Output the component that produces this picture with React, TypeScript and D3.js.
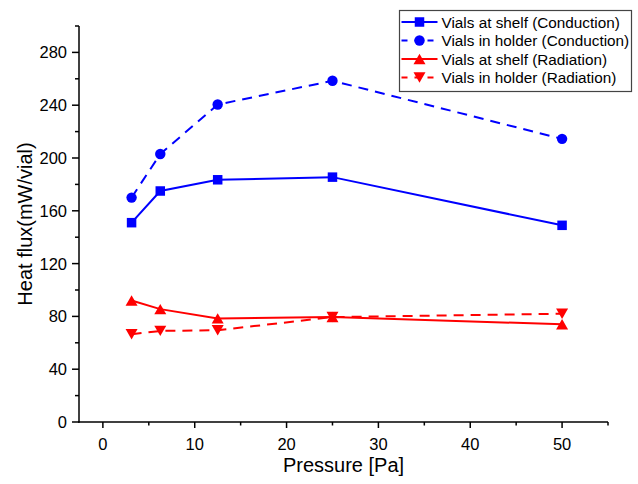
import React from "react";
import * as d3 from "d3";

// Chamber pressure [Pa]
const pressure = [3.125, 6.25, 12.5, 25, 50];

// Heat flux per vial [mW/vial]
const shelfConduction = [151, 175, 183.5, 185.5, 149];
const holderConduction = [170, 203, 240.5, 258.5, 214.5];
const shelfRadiation = [92, 85.5, 78.5, 79.5, 74];
const holderRadiation = [66.5, 69, 69.5, 79.5, 82];

const xMajorTicks = [0, 10, 20, 30, 40, 50];
const xMinorTicks = [5, 15, 25, 35, 45, 55];
const yMajorTicks = [0, 40, 80, 120, 160, 200, 240, 280];
const yMinorTicks = [20, 60, 100, 140, 180, 220, 260, 300];

type MarkerKind = "square" | "circle" | "up" | "down";

interface Series {
  name: string;
  values: number[];
  color: string;
  dashed: boolean;
  marker: MarkerKind;
}

const series: Series[] = [
  { name: "Vials at shelf (Conduction)", values: shelfConduction, color: "#0000ff", dashed: false, marker: "square" },
  { name: "Vials in holder (Conduction)", values: holderConduction, color: "#0000ff", dashed: true, marker: "circle" },
  { name: "Vials at shelf (Radiation)", values: shelfRadiation, color: "#ff0000", dashed: false, marker: "up" },
  { name: "Vials in holder (Radiation)", values: holderRadiation, color: "#ff0000", dashed: true, marker: "down" },
];

const W = 638;
const H = 484;
const left = 79;
const right = 608;
const top = 26;
const bottom = 422;

const x = d3.scaleLinear().domain([-2.6, 55]).range([left, right]);
const y = d3.scaleLinear().domain([0, 300]).range([bottom, top]);

const FONT = "Arial, 'Liberation Sans', sans-serif";

function Marker({ kind, cx, cy, color }: { kind: MarkerKind; cx: number; cy: number; color: string }) {
  if (kind === "square") {
    return <rect x={cx - 4.75} y={cy - 4.75} width={9.5} height={9.5} fill={color} />;
  }
  if (kind === "circle") {
    return <circle cx={cx} cy={cy} r={5.2} fill={color} />;
  }
  const w = 6;
  const h = 5.2;
  const pts =
    kind === "up"
      ? `${cx - w},${cy + h} ${cx + w},${cy + h} ${cx},${cy - h}`
      : `${cx - w},${cy - h} ${cx + w},${cy - h} ${cx},${cy + h}`;
  return <polygon points={pts} fill={color} />;
}

export default function App() {
  const line = d3
    .line<number>()
    .x((_, i) => x(pressure[i]))
    .y((d) => y(d));

  const legendX = 399.5;
  const legendY = 10.5;
  const legendW = 232;
  const legendH = 81;
  const rowY = [22, 40.5, 59, 77.5];

  return (
    <svg
      width={W}
      height={H}
      style={{ position: "absolute", left: 0, top: 0, background: "#ffffff" }}
      fontFamily={FONT}
    >
      <rect width={W} height={H} fill="#ffffff" />

      {/* series lines */}
      {series.map((s) => (
        <path
          key={s.name + "-line"}
          d={line(s.values) ?? ""}
          fill="none"
          stroke={s.color}
          strokeWidth={2}
          strokeDasharray={s.dashed ? "10 7" : undefined}
        />
      ))}

      {/* series markers */}
      {series.map((s) =>
        s.values.map((v, i) => (
          <Marker key={s.name + i} kind={s.marker} cx={x(pressure[i])} cy={y(v)} color={s.color} />
        ))
      )}

      {/* y axis */}
      <line x1={left} x2={left} y1={top} y2={bottom + 0.75} stroke="#000" strokeWidth={1.5} />
      {yMajorTicks.map((t) => (
        <g key={"ym" + t}>
          <line x1={left - 7} x2={left} y1={y(t)} y2={y(t)} stroke="#000" strokeWidth={1.5} />
          <text x={left - 12} y={y(t)} dy="0.36em" textAnchor="end" fontSize={16.5} fill="#000">
            {t}
          </text>
        </g>
      ))}
      {yMinorTicks.map((t) => (
        <line key={"yn" + t} x1={left - 4} x2={left} y1={y(t)} y2={y(t)} stroke="#000" strokeWidth={1.5} />
      ))}

      {/* x axis */}
      <line x1={left - 0.75} x2={right} y1={bottom} y2={bottom} stroke="#000" strokeWidth={1.5} />
      {xMajorTicks.map((t) => (
        <g key={"xm" + t}>
          <line x1={x(t)} x2={x(t)} y1={bottom} y2={bottom + 6} stroke="#000" strokeWidth={1.5} />
          <text x={x(t)} y={bottom + 28} textAnchor="middle" fontSize={16.5} fill="#000">
            {t}
          </text>
        </g>
      ))}
      {xMinorTicks.map((t) => (
        <line key={"xn" + t} x1={x(t)} x2={x(t)} y1={bottom} y2={bottom + 3.5} stroke="#000" strokeWidth={1.5} />
      ))}

      {/* axis titles */}
      <text x={(left + right) / 2} y={472} textAnchor="middle" fontSize={20} fill="#000">
        Pressure [Pa]
      </text>
      <text
        transform={`translate(32, ${(top + bottom) / 2}) rotate(-90)`}
        textAnchor="middle"
        fontSize={20}
        fill="#000"
      >
        Heat flux(mW/vial)
      </text>

      {/* legend */}
      <rect
        x={legendX}
        y={legendY}
        width={legendW}
        height={legendH}
        fill="#ffffff"
        stroke="#444"
        strokeWidth={1.2}
      />
      {series.map((s, i) => (
        <g key={s.name + "-legend"}>
          <line
            x1={legendX + 2}
            x2={legendX + 38}
            y1={rowY[i]}
            y2={rowY[i]}
            stroke={s.color}
            strokeWidth={2}
            strokeDasharray={s.dashed ? "6 7" : undefined}
          />
          <Marker kind={s.marker} cx={legendX + 20} cy={rowY[i]} color={s.color} />
          <text x={legendX + 42} y={rowY[i]} dy="0.36em" fontSize={15.3} fill="#000">
            {s.name}
          </text>
        </g>
      ))}
    </svg>
  );
}
